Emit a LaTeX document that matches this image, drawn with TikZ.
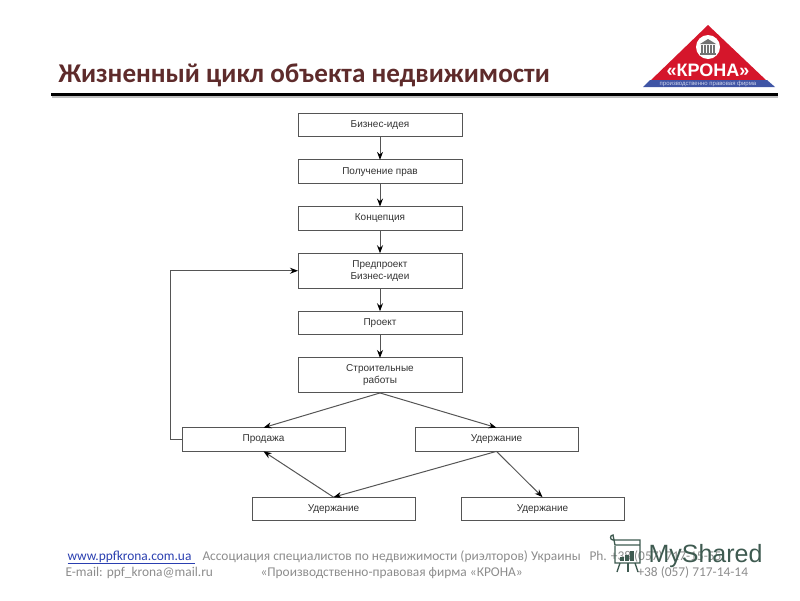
\documentclass[tikz,border=0pt]{standalone}
\usepackage{fontspec}
\setmainfont{Liberation Sans}
\newfontfamily\titlefont{Carlito}
\usetikzlibrary{positioning,arrows.meta}

\definecolor{titlered}{HTML}{5E2B2B}
\definecolor{boxline}{HTML}{555555}
\definecolor{footgray}{HTML}{8C8C8C}
\definecolor{linkblue}{HTML}{2A3FB0}
\definecolor{logored}{HTML}{D5162B}
\definecolor{logoblue}{HTML}{3F55A5}
\definecolor{markgreen}{HTML}{3E5A50}

\begin{document}
\begin{tikzpicture}[x=1pt,y=-1pt,line width=1pt]
\tikzstyle{stagebox}=[draw=boxline,fill=white,minimum width=164pt,align=center,
	inner sep=0pt,outer sep=0pt,font=\fontsize{10}{12}\selectfont,text=black!80]
\tikzstyle{low}=[stagebox,minimum height=23.7pt]
\tikzstyle{tall}=[stagebox,minimum height=35pt]
\tikzstyle{flow}=[draw=boxline,-{Stealth[length=8pt,width=6pt,black]}]
\tikzstyle{foot}=[anchor=base west,inner sep=0pt,text=footgray,font=\titlefont\fontsize{13.4}{15}\selectfont]

\useasboundingbox (0,0) rectangle (800,600);

% title
\node (title) [anchor=base west,inner sep=0pt,text=titlered,font=\titlefont\bfseries\fontsize{27.1}{30}\selectfont]
	at (58,82) {Жизненный цикл объекта недвижимости};
\fill[black!25] (52,96) rectangle (778,98);
\fill[black] (51,93) rectangle (778,96);

% logo
\fill[logored] (708,25) -- (767,81) -- (650,81) -- cycle;
\fill[logoblue] (650,80) -- (767,80) -- (775,87) -- (643,87) -- cycle;
\fill[white] (708,47) circle (12);
\fill[black!55] (700,44) -- (708,39) -- (716,44) -- cycle;
\fill[black!55] (700,53) rectangle (716,55);
\foreach \px in {701,704,707,710,713}
	\fill[black!55] (\px,45) rectangle (\px+2,53);
\node (brand) [inner sep=0pt,text=white,font=\bfseries\fontsize{18}{20}\selectfont] at (708,70) {«КРОНА»};
\node (firm) [inner sep=0pt,text=white!75!logoblue,font=\fontsize{6}{7}\selectfont] at (708,83.7) {производственно правовая фирма};

% stages
\node (idea) [low] at (380,125) {Бизнес-идея};
\node (rights) [low,below=23pt of idea] {Получение прав};
\node (concept) [low,below=23pt of rights] {Концепция};
\node (pre) [tall,below=23pt of concept] {Предпроект\\Бизнес-идеи};
\node (project) [low,below=23pt of pre] {Проект};
\node (build) [tall,below=23pt of project] {Строительные\\работы};
\node (sale) [low,minimum width=163pt] at (263.5,439.5) {Продажа};
\node (hold) [low,minimum width=163pt] at (496.5,439.5) {Удержание};
\node (holdl) [low,minimum width=163pt] at (333.5,509) {Удержание};
\node (holdr) [low,minimum width=163pt] at (542.5,509) {Удержание};

\draw[flow] (idea) -- (rights);
\draw[flow] (rights) -- (concept);
\draw[flow] (concept) -- (pre);
\draw[flow] (pre) -- (project);
\draw[flow] (project) -- (build);
\draw[flow] (build.south) -- (sale.north);
\draw[flow] (build.south) -- (hold.north);
\draw[flow] (hold.south) -- (holdl.north);
\draw[flow] (hold.south) -- (holdr.north);
\draw[flow] (holdl.north) -- (sale.south);
\draw[flow] (sale.west) -- ++(-12pt,0pt) |- (pre.west);

% footer
\node (site) [foot,text=linkblue] at (67,560) {\underline{www.ppfkrona.com.ua\ }};
\node (assoc) [foot] at (202,560) {Ассоциация специалистов по недвижимости (риэлторов) Украины};
\node (phone) [foot] at (589,560) {Ph. +38 (057) 717-15-55};
\node (mail) [foot] at (65,576) {E-mail: ppf\_krona@mail.ru};
\node (firmfoot) [foot] at (260,576) {«Производственно-правовая фирма «КРОНА»};
\node (phonetwo) [foot] at (637,576) {+38 (057) 717-14-14};

% watermark
\begin{scope}[draw=markgreen,line width=1.3pt]
\draw (615,546) -- (615,563) -- (640,563) -- (640,540) -- (613,540)
	arc (90:270:2.5) -- (615,545) -- (640,545);
\draw (620,563) -- (617,572);
\draw (628,563) -- (628,572);
\draw (635,563) -- (638,572);
\foreach \px/\py in {620/557,625/555,630/551}
	\fill[markgreen] (\px,\py) rectangle (\px+3.5,561);
\end{scope}
\node (mark) [anchor=base west,inner sep=0pt,text=markgreen,font=\fontsize{25}{28}\selectfont] at (648,562) {MyShared};

\end{tikzpicture}
\end{document}
